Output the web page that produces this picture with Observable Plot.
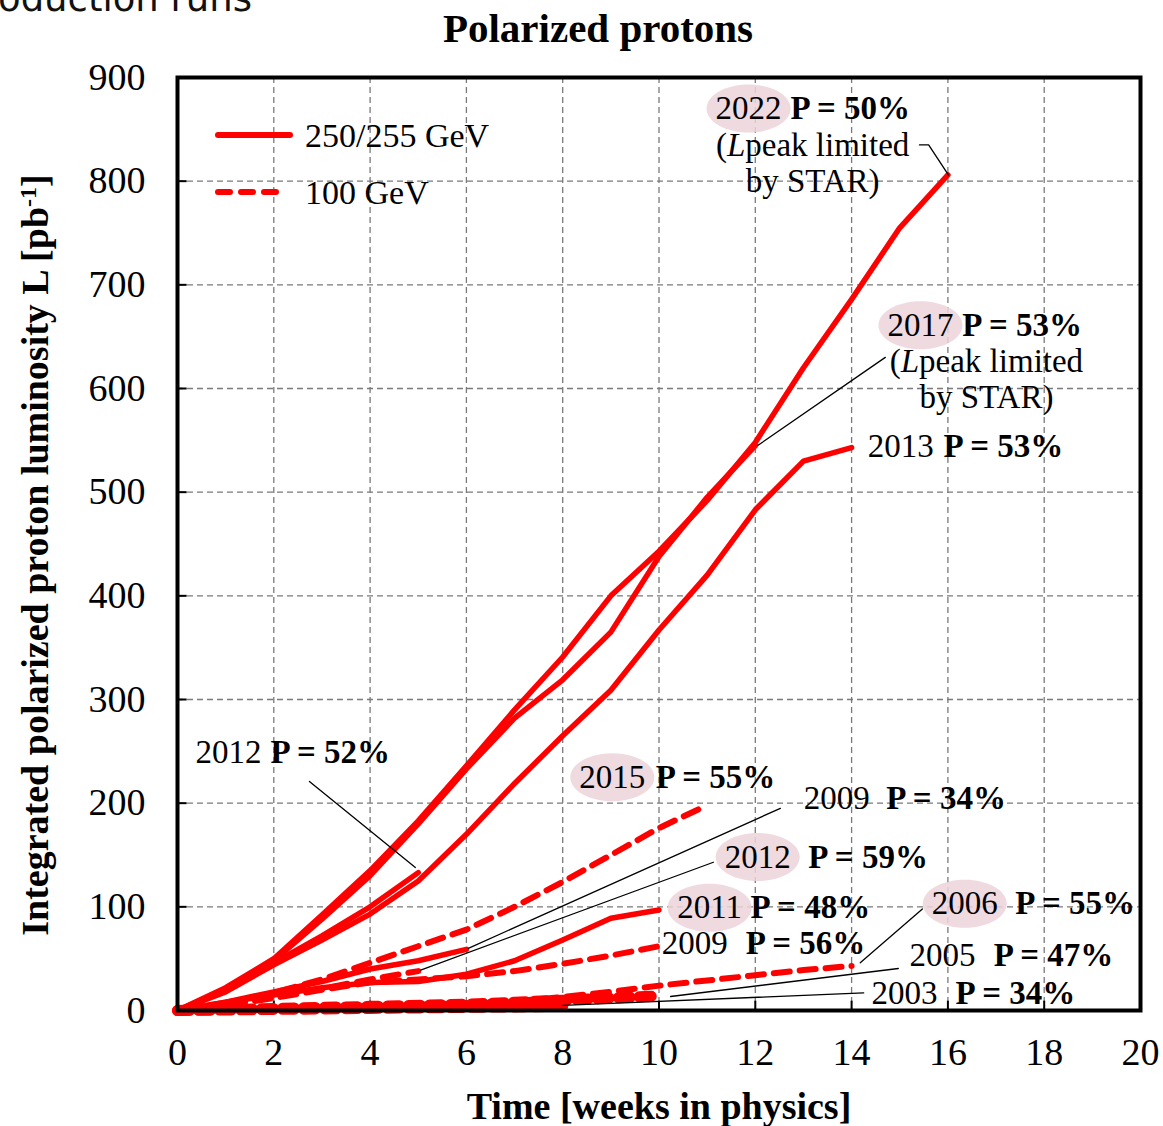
<!DOCTYPE html>
<html>
<head>
<meta charset="utf-8">
<script src="https://cdn.jsdelivr.net/npm/d3@7"></script>
<script src="https://cdn.jsdelivr.net/npm/@observablehq/plot@0.6"></script>
<style>
  body { margin: 0; background: #fff; }
  #wrap { position: relative; width: 1163px; height: 1126px; overflow: hidden; background: #fff; font-family: "Liberation Serif", "Times New Roman", serif; }
  #chart { position: absolute; left: 0; top: 0; }
  #chart svg text { font-family: "Liberation Serif", "Times New Roman", serif; }
  .abs { position: absolute; white-space: nowrap; line-height: 1; }
</style>
</head>
<body>
<div id="wrap">
  <div class="abs" style="left:-2px; top:-20px; font-family:'DejaVu Sans', sans-serif; font-size:37px; color:#111;">oduction runs</div>
  <div id="chart"></div>
  <div class="abs" style="left:598px; top:8px; transform:translateX(-50%); font-size:41px; font-weight:bold;">Polarized protons</div>
  <div class="abs" style="left:35px; top:555px; transform:translate(-50%,-50%) rotate(-90deg); font-size:38px; font-weight:bold;">Integrated polarized proton luminosity L [pb<sup style="font-size:24px; vertical-align: 12px; line-height:0;">-1</sup>]</div>
  <div class="abs" style="left:659px; top:1087px; transform:translateX(-50%); font-size:38px; font-weight:bold;">Time [weeks in physics]</div>
  <svg class="abs" style="left:0; top:0;" width="1163" height="1126" id="legend">
    <line x1="218" y1="135" x2="290" y2="135" stroke="#ff0000" stroke-width="6" stroke-linecap="round"/>
    <line x1="218" y1="192" x2="286" y2="192" stroke="#ff0000" stroke-width="6" stroke-dasharray="12,11" stroke-linecap="round"/>
    <text x="305" y="135" dominant-baseline="central" font-size="34" font-family="Liberation Serif, serif">250/255 GeV</text>
    <text x="305" y="192" dominant-baseline="central" font-size="34" font-family="Liberation Serif, serif">100 GeV</text>
  </svg>
</div>
<script>
// ---------- tick values ----------
const xTicks = [0, 2, 4, 6, 8, 10, 12, 14, 16, 18, 20];
const yTicks = [0, 100, 200, 300, 400, 500, 600, 700, 800, 900];

// ---------- 250/255 GeV runs (solid) : [week, integrated luminosity pb^-1] ----------
const run2022 = [[0,0],[1,22],[2,50],[3,92],[4,135],[5,183],[6,236],[7,290],[8,341],[9,400],[10,443],[11,492],[12,548],[13,620],[14,686],[15,755],[16,806]];
const run2017 = [[0,0],[1,20],[2,48],[3,88],[4,130],[5,180],[6,233],[7,282],[8,319],[9,365],[10,438],[11,495],[12,545]];
const run2013 = [[0,0],[1,18],[2,44],[3,68],[4,93],[5,125],[6,170],[7,219],[8,265],[9,309],[10,367],[11,420],[12,483],[13,530],[14,543]];
const run2012_52 = [[0,0],[1,20],[2,46],[3,72],[4,100],[5,133]];
const run2011_48 = [[0,0],[1,8],[2,15],[3,22],[4,27],[5,28],[6,35],[7,48],[8,68],[9,89],[10,97]];
const run2009_34 = [[0,0],[1,8],[2,18],[3,28],[4,40],[5,48],[6,59]];

// ---------- 100 GeV runs (dashed) ----------
const run2015_55 = [[0,0],[1,7],[2,17],[3,30],[4,46],[5,62],[6,78],[7,100],[8,124],[9,150],[10,176],[11,198]];
const run2012_59 = [[0,0],[1,6],[2,13],[3,21],[4,30],[5,38]];
const run2009_56 = [[0,0],[1,5],[2,12],[3,20],[4,27],[5,30],[6,33],[7,38],[8,45],[9,53],[10,62]];
const run2006_55 = [[0,0],[2,2],[4,4],[6,7],[7,9],[8,13],[9,18],[10,24],[11,29],[12,34],[13,39],[14,43]];
const run2005_47 = [[0,0],[2,2],[4,4],[6,6],[7,8],[8,10],[9,12],[10,14]];
const run2003_34 = [[0,0],[2,1],[4,2],[6,3],[8,4]];

// ---------- annotation texts ----------
const annYears   = ["2022", "2017", "2013", "2012", "2015", "2009", "2012", "2011", "2009", "2006", "2005", "2003"];
const annP       = ["P = 50%", "P = 53%", "P = 53%", "P = 52%", "P = 55%", "P = 34%", "P = 59%", "P = 48%", "P = 56%", "P = 55%", "P = 47%", "P = 34%"];
const annYearX   = [11.86, 15.43, 15.02, 1.06, 9.03, 13.69, 12.05, 11.05, 10.74, 16.35, 15.89, 15.10];
const annPX      = [12.73, 16.30, 15.91, 1.93, 9.93, 14.72, 13.10, 11.90, 11.80, 17.40, 16.95, 16.16];
const annY       = [870, 661, 544, 249, 225, 205, 148, 99, 65, 103, 53, 16];
const annHalo    = [true, true, false, false, true, false, true, true, false, true, false, false];

const noteLines  = ["(Lpeak limited", "by STAR)", "(Lpeak limited", "by STAR)"];
const noteX      = [13.19, 13.19, 16.80, 16.80];
const noteY      = [834, 800, 626, 591];

// leader lines: [id, week, lumi]
const leaders = [
  ["2022",15.41,835],["2022",15.60,835],["2022",16.01,806],
  ["2017",14.70,630],["2017",12.05,545],
  ["2012a",2.74,221],["2012a",4.94,138],
  ["2009a",12.52,195],["2009a",6.04,60],
  ["2012b",11.13,143],["2012b",5.05,39],
  ["2006",15.47,98],["2006",14.18,46],
  ["2005",14.97,40.5],["2005",10.24,13.5],
  ["2003",14.25,17],["2003",8.0,5]
];

// ---------- build tables ----------
const solidRuns = {"2022": run2022, "2017": run2017, "2013": run2013, "2012 (52%)": run2012_52, "2011": run2011_48, "2009 (34%)": run2009_34};
const dashedRuns = {"2015": run2015_55, "2012 (59%)": run2012_59, "2009 (56%)": run2009_56, "2006": run2006_55, "2005": run2005_47, "2003": run2003_34};
const toRows = (runs) => Object.entries(runs).flatMap(([name, pts]) => pts.map(([w, l]) => ({run: name, week: w, lumi: l})));
const solidRows = toRows(solidRuns);
const dashedRows = toRows(dashedRuns).filter(d => d.run !== "2003" && d.run !== "2005");
const heavyRows = toRows(dashedRuns).filter(d => d.run === "2003" || d.run === "2005");

const ann = annYears.map((y, i) => ({year: y, p: annP[i], yx: annYearX[i], px: annPX[i], y: annY[i], halo: annHalo[i]}));
const notes = noteLines.map((t, i) => ({t, x: noteX[i], y: noteY[i]}));
const leaderRows = leaders.map(([id, w, l]) => ({id, week: w, lumi: l}));

const ellipseSymbol = {
  draw(ctx) {
    const rx = 42, ry = 24, k = 0.5523;
    ctx.moveTo(rx, 0);
    ctx.bezierCurveTo(rx, ry * k, rx * k, ry, 0, ry);
    ctx.bezierCurveTo(-rx * k, ry, -rx, ry * k, -rx, 0);
    ctx.bezierCurveTo(-rx, -ry * k, -rx * k, -ry, 0, -ry);
    ctx.bezierCurveTo(rx * k, -ry, rx, -ry * k, rx, 0);
    ctx.closePath();
  }
};

const serif = "Liberation Serif, Times New Roman, serif";
const gridStyle = {stroke: "#7a7a7a", strokeOpacity: 1, strokeDasharray: "6,4", strokeWidth: 1.3};

const plot = Plot.plot({
  width: 1163,
  height: 1126,
  marginLeft: 177,
  marginRight: 23,
  marginTop: 77,
  marginBottom: 116,
  style: {fontFamily: serif, fontSize: "38px", color: "black", background: "transparent", overflow: "visible"},
  x: {domain: [0, 20], label: null},
  y: {domain: [0, 900], label: null},
  marks: [
    Plot.gridX(xTicks, gridStyle),
    Plot.gridY(yTicks, gridStyle),
    Plot.axisX(xTicks, {tickSize: 0, tickPadding: 28, label: null, fontSize: 38, fontFamily: serif}),
    Plot.axisY(yTicks, {tickSize: 0, tickPadding: 32, label: null, fontSize: 38, fontFamily: serif}),
    Plot.ruleX(xTicks, {x: d => d, y1: 0, y2: 9, stroke: "black", strokeWidth: 2}),
    Plot.ruleY(yTicks, {y: d => d, x1: 0, x2: 0.2, stroke: "black", strokeWidth: 2}),
    Plot.dot(ann.filter(d => d.halo), {x: "yx", y: "y", symbol: ellipseSymbol, r: 10, fill: "#ecd3da", fillOpacity: 0.85, stroke: "none"}),
    Plot.line(heavyRows, {x: "week", y: "lumi", z: "run", stroke: "#ff0000", strokeWidth: 11, strokeDasharray: "12,9"}),
    Plot.line(dashedRows, {x: "week", y: "lumi", z: "run", stroke: "#ff0000", strokeWidth: 6, strokeDasharray: "16,10"}),
    Plot.line(solidRows, {x: "week", y: "lumi", z: "run", stroke: "#ff0000", strokeWidth: 5.5, strokeLinejoin: "round"}),
    Plot.line(leaderRows, {x: "week", y: "lumi", z: "id", stroke: "black", strokeWidth: 1.3}),
    Plot.text(ann, {x: "yx", y: "y", text: "year", textAnchor: "middle", fontSize: 33, fontFamily: serif, fill: "black"}),
    Plot.text(ann, {x: "px", y: "y", text: "p", textAnchor: "start", fontSize: 33, fontWeight: "bold", fontFamily: serif, fill: "black"}),
    Plot.text(notes, {x: "x", y: "y", text: "t", textAnchor: "middle", fontSize: 33, fontFamily: serif, fill: "black"}),
    Plot.frame({stroke: "black", strokeWidth: 4})
  ]
});

document.getElementById("chart").appendChild(plot);

// italic "L" in "(Lpeak limited"
d3.select(plot).selectAll("text").filter(function() { return this.textContent === "(Lpeak limited"; })
  .each(function() {
    const t = d3.select(this);
    t.text("");
    t.append("tspan").text("(");
    t.append("tspan").attr("font-style", "italic").text("L");
    t.append("tspan").text("peak limited");
  });
</script>
</body>
</html>
